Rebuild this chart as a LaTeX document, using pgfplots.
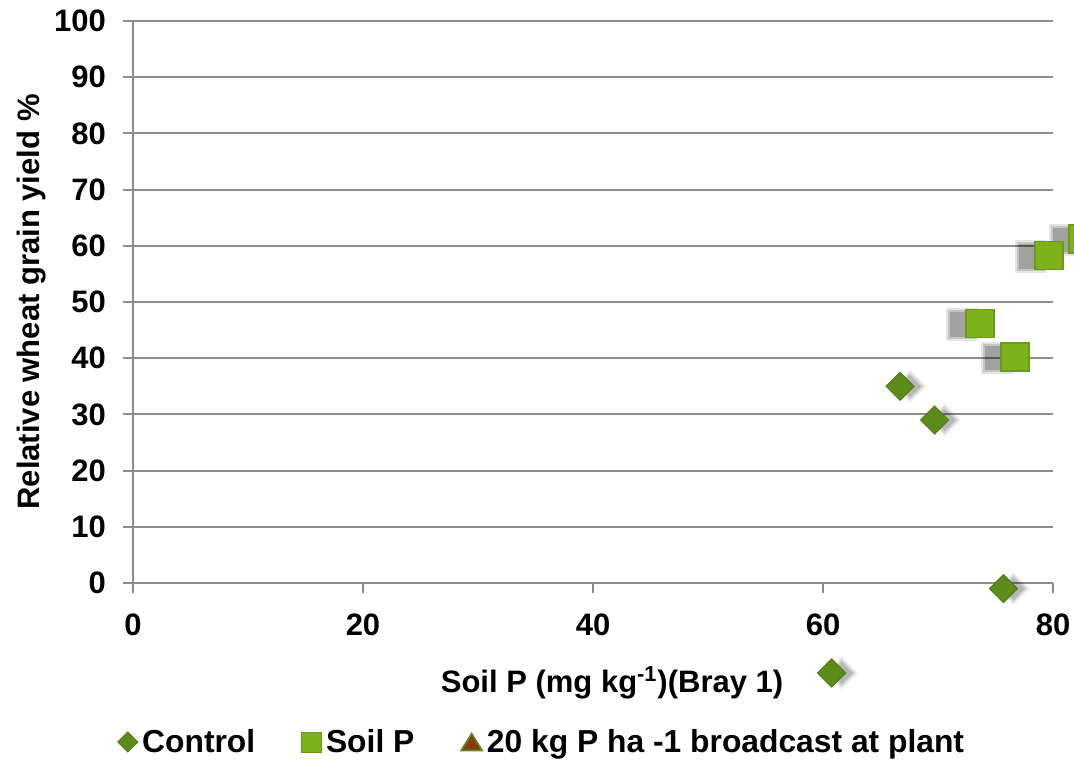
\documentclass[border=0pt]{standalone}
\usepackage{fontspec}
\setmainfont{Liberation Sans}
\usepackage{pgfplots}
\pgfplotsset{compat=1.18}
\usepackage{pgfplotstable}

\definecolor{ctrlgreen}{HTML}{5E8C1A}
\definecolor{ctrledge}{HTML}{527A14}
\definecolor{soilgreen}{HTML}{7DB21D}
\definecolor{soiledge}{HTML}{6A9A18}
\definecolor{gridgray}{HTML}{8C8C8C}
\definecolor{trifill}{HTML}{8A3A10}

% Control plots (soil P, relative yield)
\pgfplotstableread{
x y
66.7 35
69.7 29
75.7 -1
60.75 -16
}\controldata

% Soil P plots
\pgfplotstableread{
x y
73.65 46.2
76.7 40.2
79.65 58.3
82.6 61.2
}\soildata

\newcommand\lbl{\fontsize{15.5}{18}\selectfont\bfseries}
\newcommand\leg{\fontsize{15.9}{18}\selectfont\bfseries}

\begin{document}
\begin{tikzpicture}
\useasboundingbox (-66.5pt,-89pt) rectangle (470.5pt,291.5pt);
\clip (-66.5pt,-89pt) rectangle (470.5pt,291.5pt);
\begin{axis}[
  scale only axis, width=460pt, height=281pt,
  xmin=0, xmax=80, ymin=0, ymax=100,
  xtick={0,20,...,80}, ytick={0,10,...,100},
  axis lines=left,
  axis line style={-, draw=gridgray, line width=1pt},
  ymajorgrids, grid style={draw=gridgray, line width=1pt},
  tick align=outside, major tick length=5pt,
  tick style={draw=gridgray, line width=1pt},
  ticklabel style={font=\lbl},
  /pgf/number format/assume math mode=true,
  yticklabel style={xshift=-5pt},
  xticklabel style={yshift=-7pt},
  clip=false,
  xlabel={Soil P (mg kg\textsuperscript{-1})(Bray 1)},
  ylabel={Relative wheat grain yield \%},
  xlabel style={at={(axis description cs:0.5207,-0.178)}, anchor=center, font=\lbl},
  ylabel style={at={(axis description cs:-0.1108,0.5)}, anchor=center, font=\lbl},
  legend style={draw=none, fill=none, font=\leg,
    at={(axis description cs:-0.0174,-0.2829)}, anchor=west,
    legend columns=3, inner sep=0pt,
    /tikz/every odd column/.append style={column sep=0pt},
    /tikz/every even column/.append style={column sep=21pt}},
  shadow/.style={only marks, forget plot,
    mark options={draw opacity=0, fill=black, fill opacity=#1}},
]
% soft shadows of the Soil P squares (to the left)
\addplot[shadow=0.10, mark=square*, mark size=8.2pt,
  every mark/.append style={xshift=-9pt, yshift=-0.5pt}] table {\soildata};
\addplot[shadow=0.14, mark=square*, mark size=7.2pt,
  every mark/.append style={xshift=-9pt, yshift=-0.5pt}] table {\soildata};
\addplot[shadow=0.18, mark=square*, mark size=6.2pt,
  every mark/.append style={xshift=-9pt, yshift=-0.5pt}] table {\soildata};
% soft shadows of the Control diamonds (lower right)
\addplot[shadow=0.07, mark=square*, mark size=5.8pt,
  every mark/.append style={rotate=45, xshift=3.5pt, yshift=-3.5pt}] table {\controldata};
\addplot[shadow=0.10, mark=square*, mark size=4.9pt,
  every mark/.append style={rotate=45, xshift=3.5pt, yshift=-3.5pt}] table {\controldata};
\addplot[shadow=0.14, mark=square*, mark size=4.0pt,
  every mark/.append style={rotate=45, xshift=3.5pt, yshift=-3.5pt}] table {\controldata};
% markers
\addplot[only marks, mark=square*, mark size=4.95pt, forget plot,
  mark options={rotate=45, fill=ctrlgreen, draw=ctrledge, line width=0.5pt}] table {\controldata};
\addplot[only marks, mark=square*, mark size=7pt, forget plot,
  mark options={fill=soilgreen, draw=soiledge, line width=0.8pt}] table {\soildata};
% legend
\addlegendimage{legend image code/.code={\filldraw[fill=ctrlgreen, draw=ctrledge, line width=0.4pt] (0pt,0pt) -- (5pt,5pt) -- (10pt,0pt) -- (5pt,-5pt) -- cycle;}}
\addlegendentry{Control}
\addlegendimage{legend image code/.code={\filldraw[fill=soilgreen, draw=soiledge, line width=0.4pt] (0pt,-5pt) rectangle (10pt,5pt);}}
\addlegendentry{Soil P}
\addlegendimage{legend image code/.code={\filldraw[fill=trifill, draw=ctrlgreen, line width=0.8pt] (0pt,-4.25pt) -- (5.25pt,4.25pt) -- (10.5pt,-4.25pt) -- cycle;}}
\addlegendentry{20 kg P ha -1 broadcast at plant}
\end{axis}
\end{tikzpicture}
\end{document}
